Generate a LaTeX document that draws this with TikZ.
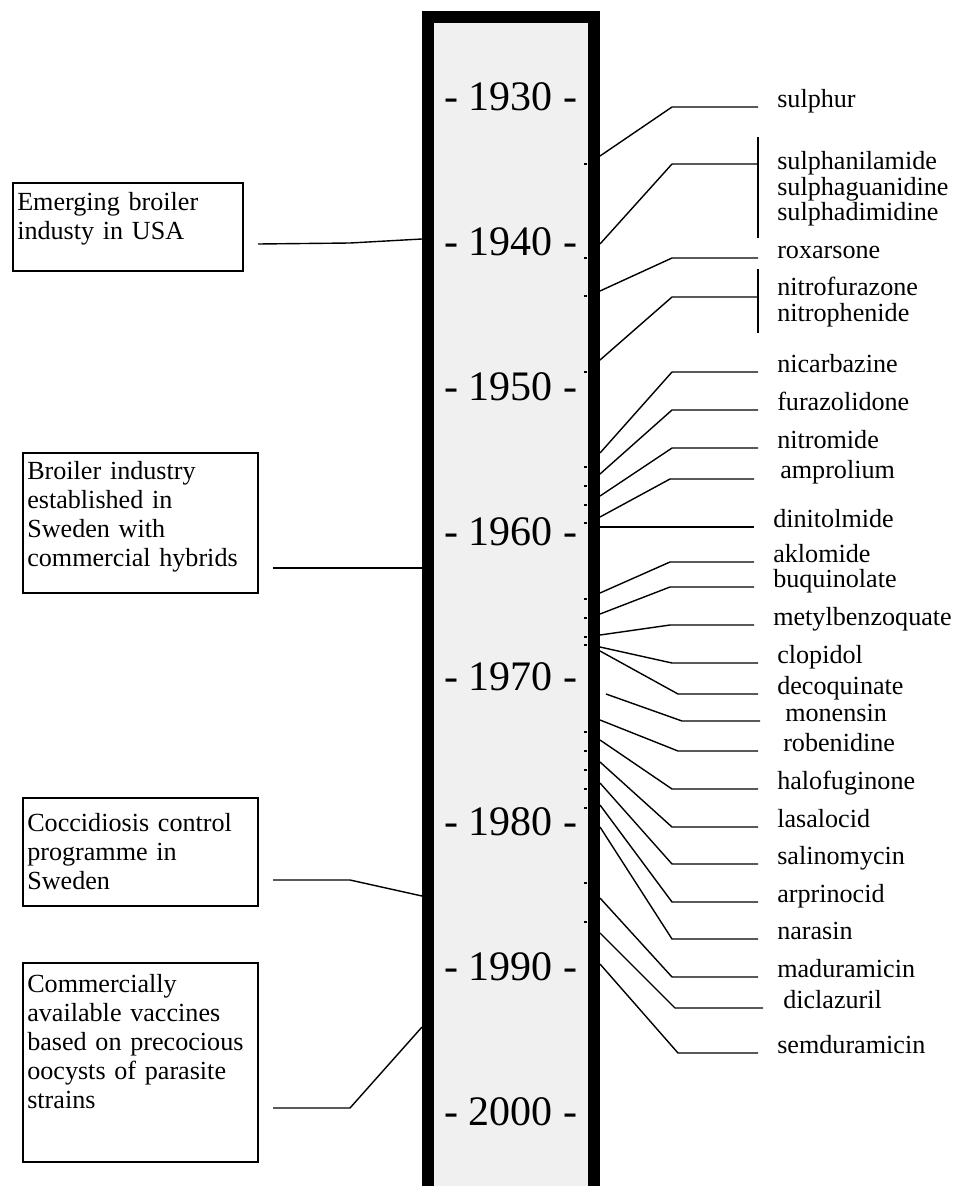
\documentclass[tikz,border=0pt]{standalone}
\usepackage{fontspec}
\setmainfont{Liberation Serif}
\definecolor{barfill}{HTML}{F0F0F0}
\begin{document}
\begin{tikzpicture}[x=0.75pt,y=-0.75pt,
  conn/.style={line width=1.05pt},
  lab/.style={anchor=base west,inner sep=0pt,font=\fontsize{19.6pt}{21.75pt}\selectfont},
  yearlab/.style={anchor=base,inner sep=0pt,font=\fontsize{31.5pt}{36pt}\selectfont},
  evbox/.style={draw,line width=1.05pt,anchor=north west,inner sep=0pt,outer sep=0pt},
  evtext/.style={anchor=base west,inner sep=0pt,align=left,text width=235pt,font=\fontsize{19.6pt}{21.75pt}\selectfont}]
\useasboundingbox (0,0) rectangle (961,1186);
% timeline bar
\draw[line width=9pt,fill=barfill] (428,17) rectangle (594,1196);
\foreach \yy in {164,258,296,372,467,486,505,523,599,618,637,645,732,751,770,789,808,883,922}
  \draw[line width=0.8pt] (584,\yy) -- (587,\yy);
% years
\foreach \k/\yr in {0/1930,1/1940,2/1950,3/1960,4/1970,5/1980,6/1990,7/2000}
  \node[yearlab] (y\yr) at (510.5,110+145.1*\k) {- \yr\ -};
% left event boxes
\node[evbox,minimum width=172.5pt,minimum height=66pt] (b1) at (13,183) {};
\node[evtext] (t1) at (17,210) {Emerging broiler\\industy in USA};
\node[evbox,minimum width=176.25pt,minimum height=105pt] (b2) at (23,453) {};
\node[evtext] (t2) at (27,479) {Broiler industry\\established in\\Sweden with\\commercial hybrids};
\node[evbox,minimum width=176.25pt,minimum height=81pt] (b3) at (23,798) {};
\node[evtext] (t3) at (27,831) {Coccidiosis control\\programme in\\Sweden};
\node[evbox,minimum width=176.25pt,minimum height=149.25pt] (b4) at (23,963) {};
\node[evtext] (t4) at (27,992) {Commercially\\available vaccines\\based on precocious\\oocysts of parasite\\strains};
% left connectors
\coordinate (c1a) at (258,244); \coordinate (c1b) at (422,239);
\draw[conn] (c1a) -- (350,243) -- (c1b);
\coordinate (c2a) at (273,568); \coordinate (c2b) at (422,568);
\draw[conn] (c2a) -- (c2b);
\coordinate (c3a) at (273,880); \coordinate (c3b) at (422,896);
\draw[conn] (c3a) -- (350,880) -- (c3b);
\coordinate (c4a) at (273,1108); \coordinate (c4b) at (422,1027);
\draw[conn] (c4a) -- (350,1108) -- (c4b);
% right connectors: name / start x / start y / elbow x / elbow y / end x
\foreach \n/\sx/\sy/\ex/\ey/\fx in {
  1/600/156/672/107/758, 2/600/244/672/164/758, 3/600/291/672/258/758,
  4/600/360/672/297/758, 5/600/453/672/372/758, 6/600/474/672/410/758,
  7/600/496/672/448/758, 8/600/517/670/479/754, 10/600/593/670/562/754,
  11/600/614/670/587/754, 12/600/635/670/625/754, 13/600/647/672/663/758,
  14/600/651/678/694/758, 15/606/694/682/721/760, 16/600/720/678/751/758,
  17/600/740/672/789/758, 18/600/762/672/827/758, 19/600/783/672/864/758,
  20/600/805/672/902/758, 21/600/827/672/939/758, 22/600/898/672/977/758,
  23/600/933/675/1008/763, 24/600/964/678/1053/758}
{
  \coordinate (s\n) at (\sx,\sy);
  \coordinate (e\n) at (\fx,\ey);
  \draw[conn] (s\n) -- (\ex,\ey) -- (e\n);
}
\coordinate (s9) at (600,527); \coordinate (e9) at (754,527);
\draw[conn] (s9) -- (e9);
% brackets
\coordinate (k2a) at (758,137); \coordinate (k2b) at (758,238);
\draw[conn] (k2a) -- (k2b);
\coordinate (k4a) at (758,269); \coordinate (k4b) at (758,333);
\draw[conn] (k4a) -- (k4b);
% right labels
\node[lab] (l1) at (777,107) {sulphur};
\node[lab] (l2a) at (777,169) {sulphanilamide};
\node[lab] (l2b) at (777,195) {sulphaguanidine};
\node[lab] (l2c) at (777,220) {sulphadimidine};
\node[lab] (l3) at (777,258) {roxarsone};
\node[lab] (l4a) at (777,295) {nitrofurazone};
\node[lab] (l4b) at (777,321) {nitrophenide};
\node[lab] (l5) at (777,372) {nicarbazine};
\node[lab] (l6) at (777,410) {furazolidone};
\node[lab] (l7) at (777,448) {nitromide};
\node[lab] (l8) at (780,478) {amprolium};
\node[lab] (l9) at (773,527) {dinitolmide};
\node[lab] (l10) at (773,562) {aklomide};
\node[lab] (l11) at (773,587) {buquinolate};
\node[lab] (l12) at (773,625) {metylbenzoquate};
\node[lab] (l13) at (777,663) {clopidol};
\node[lab] (l14) at (777,694) {decoquinate};
\node[lab] (l15) at (785,721) {monensin};
\node[lab] (l16) at (783,751) {robenidine};
\node[lab] (l17) at (777,789) {halofuginone};
\node[lab] (l18) at (777,827) {lasalocid};
\node[lab] (l19) at (777,864) {salinomycin};
\node[lab] (l20) at (777,902) {arprinocid};
\node[lab] (l21) at (777,939) {narasin};
\node[lab] (l22) at (777,977) {maduramicin};
\node[lab] (l23) at (783,1008) {diclazuril};
\node[lab] (l24) at (777,1053) {semduramicin};
\end{tikzpicture}
\end{document}
